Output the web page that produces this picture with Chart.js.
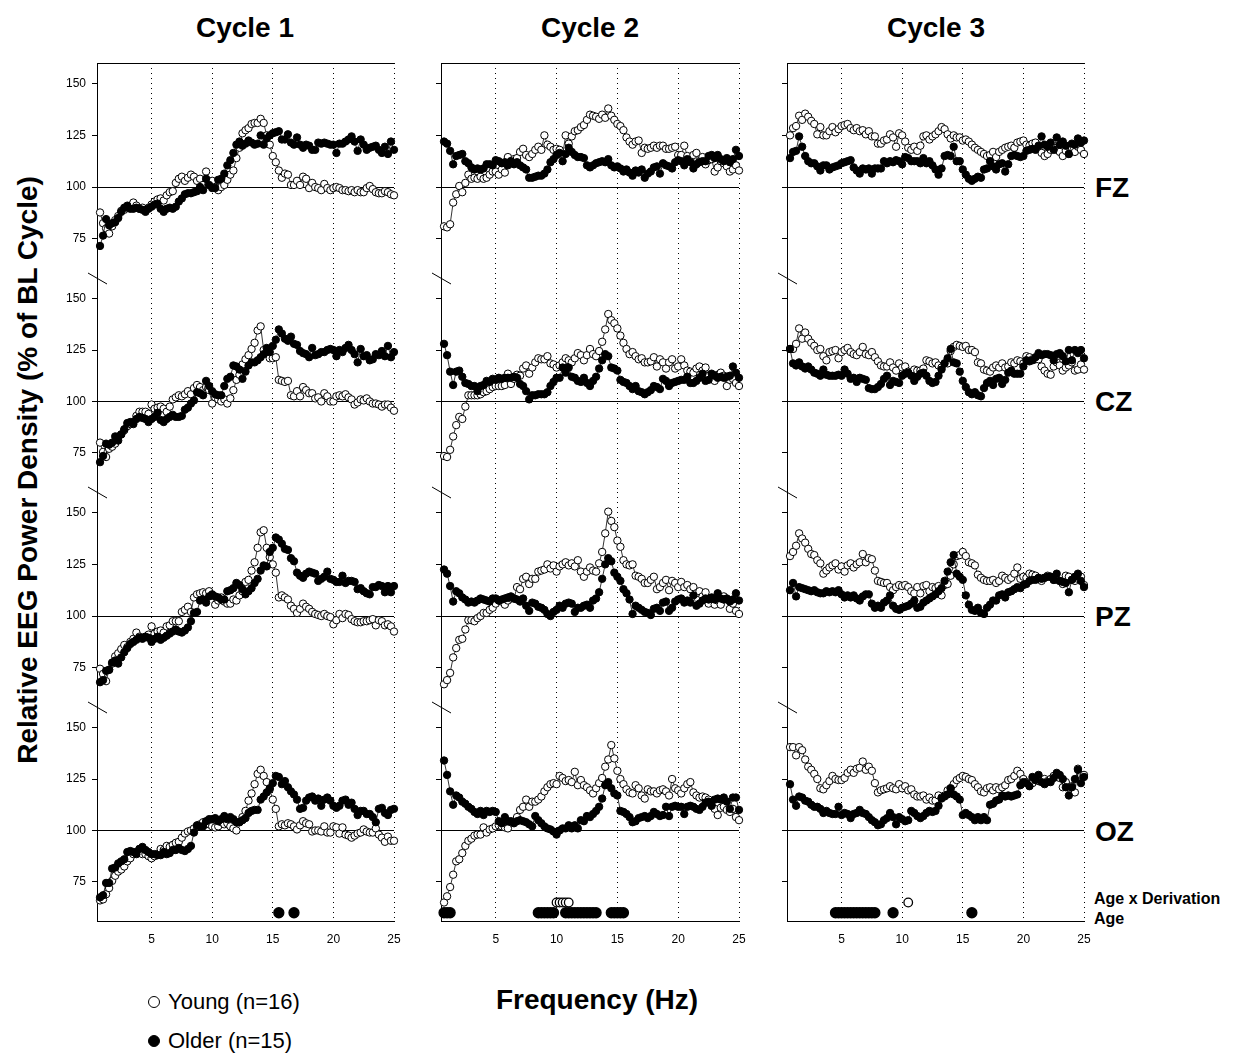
<!DOCTYPE html>
<html>
<head>
<meta charset="utf-8">
<script src="https://cdn.jsdelivr.net/npm/chart.js@4.4.1/dist/chart.umd.min.js"></script>
<style>
  body { margin: 0; background: #fff; width: 1236px; height: 1053px; position: relative; overflow: hidden;
         font-family: Arial, "Liberation Sans", sans-serif; color: #000; }
  canvas { position: absolute; }
  .t { position: absolute; font-weight: bold; white-space: nowrap; line-height: 1; }
  .c { transform: translate(-50%, -50%); }
  .m { transform: translateY(-50%); }
  .leg { position: absolute; font-size: 22px; white-space: nowrap; line-height: 1; transform: translateY(-50%); }
  .dot { position: absolute; width: 12px; height: 12px; border-radius: 50%; border: 1.5px solid #000; box-sizing: border-box; transform: translate(-50%, -50%); }
</style>
</head>
<body>

<div class="t c" style="left:245px;top:28px;font-size:28px">Cycle 1</div>
<div class="t c" style="left:590px;top:28px;font-size:28px">Cycle 2</div>
<div class="t c" style="left:936px;top:28px;font-size:28px">Cycle 3</div>

<div class="t" style="left:28px;top:470px;font-size:28px;transform:translate(-50%,-50%) rotate(-90deg)">Relative EEG Power Density (% of BL Cycle)</div>
<div class="t c" style="left:597px;top:1000px;font-size:28px">Frequency (Hz)</div>

<div class="t m" style="left:1095px;top:188px;font-size:28px">FZ</div>
<div class="t m" style="left:1095px;top:402px;font-size:28px">CZ</div>
<div class="t m" style="left:1095px;top:617px;font-size:28px">PZ</div>
<div class="t m" style="left:1095px;top:832px;font-size:28px">OZ</div>

<div class="t m" style="left:1094px;top:899px;font-size:16px">Age x Derivation</div>
<div class="t m" style="left:1094px;top:919px;font-size:16px">Age</div>

<div class="dot" style="left:154px;top:1002px;background:#fff"></div>
<div class="leg" style="left:168px;top:1002px">Young (n=16)</div>
<div class="dot" style="left:154px;top:1041px;background:#000"></div>
<div class="leg" style="left:168px;top:1041px">Older (n=15)</div>

<script>
// frequency bins (Hz), 0.25 Hz resolution
const freqs = Array.from({ length: 98 }, (_, i) => 0.75 + i * 0.25);
const xTicks = [5, 10, 15, 20, 25];
const yTicks = [75, 100, 125, 150];

// FZ
const youngFZ1 = [87.7, 82.5, 80, 77.5, 81, 84, 86, 88.5, 89, 90,
  91, 92.5, 91, 89.5, 90, 89, 90, 91.5, 93, 94,
  94.5, 93.5, 96, 97.5, 98, 102, 104, 105, 103, 104.5,
  106, 105, 103, 104, 101, 107.5, 101, 103, 100, 98.5,
  100, 101, 103.5, 106, 108, 114, 119, 126, 127.5, 128.5,
  130.5, 131, 131, 133, 131, 125, 120.5, 115, 112, 108,
  104.5, 106.5, 106, 101, 101, 103, 101, 105, 104, 99.5,
  102, 100, 99.5, 98.5, 101.5, 99.5, 98.5, 99.5, 100, 99.5,
  98.5, 98.5, 98, 98.5, 97.5, 98.5, 97.5, 97.5, 99.5, 100.5,
  99, 97.5, 97, 97, 98, 97.5, 96.5, 96];
const olderFZ1 = [71.5, 76.5, 84.5, 81.5, 82.5, 83, 85, 88, 90, 91,
  89.5, 89.5, 90, 89.5, 89, 88, 89.5, 90.5, 91.5, 92,
  89.5, 88, 89.5, 90, 89.5, 90.5, 93, 94.5, 96.5, 97,
  97, 97.5, 98, 100, 98.5, 104, 101, 99.5, 99.5, 103.5,
  104, 106.5, 110.5, 113, 116.5, 120.5, 122, 120, 121, 122.5,
  121.5, 120.5, 121, 125, 120.5, 123.5, 125, 126, 126.5, 127,
  123, 123, 125.5, 121.5, 120.5, 124, 120.5, 119, 120.5, 120,
  118, 118, 121.5, 121, 121.5, 121, 120.5, 120.5, 116.5, 121,
  121, 122, 123, 124.5, 122, 117.5, 123, 120.5, 118, 119,
  119.5, 120, 118, 116.5, 119.5, 116, 122, 118];
const youngFZ2 = [81, 80.5, 82, 92.5, 96.5, 100.5, 97.5, 102, 106, 104,
  104.5, 104, 105, 104, 104.5, 106, 107.5, 107.5, 106, 108.5,
  107, 114.5, 112.5, 113.5, 114, 117, 118.5, 115.5, 114.5, 116,
  118, 119.5, 118, 125, 120.5, 119.5, 118, 118.5, 118, 115.5,
  125, 121, 124.5, 127, 127.5, 129, 130, 132.5, 135, 134.5,
  134, 133, 135, 133.5, 138, 134.5, 132.5, 130.5, 129.5, 127.5,
  124, 122, 120.5, 122, 122.5, 116.5, 119, 118.5, 119, 120,
  119, 120, 120, 118.5, 118.5, 119, 119.5, 115.5, 115.5, 120,
  115, 113, 115.5, 116.5, 112.5, 114.5, 111, 113, 113.5, 107.5,
  109.5, 112.5, 111.5, 110, 107.5, 108.5, 110.5, 108];
const olderFZ2 = [122, 121, 117.5, 111, 115, 115.5, 116, 112.5, 111.5, 109.5,
  108.5, 109, 108.5, 109, 111, 111, 110.5, 113, 112.5, 111.5,
  112, 110.5, 112.5, 111, 112, 110.5, 109.5, 108.5, 104.5, 104.5,
  105, 105.5, 105.5, 106.5, 108.5, 112, 113.5, 115.5, 116.5, 112.5,
  116, 119, 117, 115.5, 114.5, 114.5, 114, 110.5, 109.5, 110.5,
  111.5, 112, 112.5, 112, 113.5, 110.5, 109.5, 110, 109, 107.5,
  108.5, 107, 105.5, 108, 107, 108.5, 104.5, 106.5, 107.5, 109.5,
  110, 106.5, 111.5, 110.5, 110, 109, 112, 113, 112.5, 110.5,
  113.5, 112, 109, 111, 112, 112.5, 112.5, 115, 115.5, 114,
  115.5, 113.5, 112.5, 114, 112, 113.5, 118, 115];
const youngFZ3 = [125, 128.5, 129.5, 134.5, 132.5, 135.5, 134, 132, 130.5, 125.5,
  129, 125, 125, 127, 129, 126.5, 128, 129.5, 130, 130.5,
  128.5, 127.5, 128.5, 127, 127.5, 125.5, 127, 124.5, 124.5, 121,
  121, 122.5, 123, 125.5, 124, 119.5, 126, 125, 122, 119,
  118, 119.5, 117.5, 120, 124.5, 125, 123, 124.5, 125.5, 127,
  129, 128, 125.5, 123.5, 125, 124, 124, 122.5, 123, 122,
  120.5, 119, 118, 117, 116, 115, 115.5, 117, 114.5, 117,
  118, 119, 119.5, 120, 119, 121.5, 122, 122.5, 120.5, 120,
  121, 121.5, 119, 116.5, 115, 116, 118, 119, 118, 117,
  115, 117.5, 116, 119, 117, 119.5, 118, 116];
const olderFZ3 = [114, 117, 117.5, 124.5, 119.5, 115, 112.5, 111.5, 111.5, 110,
  108, 110.5, 110.5, 108.5, 109.5, 110, 110.5, 111.5, 112, 112.5,
  113, 109.5, 108, 106.5, 109, 108.5, 109, 106.5, 109, 109,
  109, 112.5, 111.5, 112.5, 112, 113, 112.5, 111, 114.5, 114,
  112.5, 112.5, 112.5, 111.5, 114, 111.5, 112.5, 110.5, 108.5, 106,
  109, 115, 115.5, 115, 119.5, 112.5, 112.5, 108.5, 106, 104,
  103, 104, 105, 104.5, 108.5, 109, 112.5, 110, 108.5, 111,
  111.5, 107.5, 111, 115, 115.5, 115, 114.5, 115, 117.5, 118,
  118.5, 118, 120, 124.5, 120.5, 119.5, 121.5, 118, 124, 120.5,
  122, 120, 116, 121, 120.5, 123.5, 121.5, 122.5];

// CZ
const youngCZ1 = [80, 75.5, 73, 77, 78, 79.5, 83, 84, 86, 88,
  89, 90, 93, 95, 95, 95, 94, 98.5, 96.5, 97,
  97.5, 96.5, 95, 97.5, 101, 102, 103, 102.5, 103.5, 105,
  103.5, 106.5, 108, 107, 105.5, 107, 105.5, 99, 102, 101,
  100, 101, 99, 101.5, 105.5, 110.5, 113, 118, 120.5, 122.5,
  125.5, 128.5, 134.5, 136.5, 125, 123.5, 121, 121, 121.5, 110.5,
  110, 109.5, 110, 103, 102.5, 105, 102.5, 107, 105.5, 104,
  104, 101.5, 102, 100, 104, 102.5, 100, 100, 102.5, 103,
  102.5, 103.5, 102, 101, 98.5, 99.5, 101, 100.5, 101.5, 100,
  99, 99, 98.5, 97.5, 98.5, 98.5, 97, 95.5];
const olderCZ1 = [70.5, 73.5, 79.5, 79, 80, 83, 81, 84, 86.5, 89.5,
  90, 89, 91.5, 92.5, 92, 91.5, 90, 91.5, 92.5, 94.5,
  91, 90, 91.5, 92.5, 93.5, 92.5, 92.5, 93, 96, 97,
  99, 100.5, 104.5, 104, 103, 110, 107.5, 105, 103.5, 103,
  103, 107.5, 111, 112, 117.5, 117, 115.5, 111, 114.5, 117.5,
  119, 119, 120, 121.5, 123, 126, 124, 127, 130, 135,
  133, 130.5, 129.5, 131.5, 128, 127.5, 124.5, 123.5, 123, 121.5,
  126, 122.5, 123, 124, 124, 125, 125.5, 125, 122, 125,
  124, 126, 127.5, 125, 123, 119, 125.5, 122, 122.5, 120,
  120.5, 123, 122.5, 124.5, 122, 127, 121.5, 124];
const youngCZ2 = [73.5, 73, 76.5, 83, 88.5, 92.5, 91.5, 97.5, 103, 103,
  103, 103, 103.5, 104.5, 105, 106, 107, 107.5, 107.5, 107.5,
  108, 113.5, 108.5, 111, 113, 112.5, 116, 117.5, 113.5, 116.5,
  119, 121, 120.5, 120.5, 122, 118.5, 118, 116.5, 117.5, 119,
  121, 120, 119, 121, 123.5, 122.5, 120, 122.5, 125.5, 123,
  122, 124.5, 129, 135, 142.5, 139.5, 138, 135.5, 132, 128.5,
  125.5, 123, 124, 122, 120.5, 121, 119, 119, 119.5, 121.5,
  117, 120.5, 119, 116, 119, 120.5, 116, 117, 120.5, 117.5,
  115, 114.5, 114, 116, 117, 115, 116.5, 112.5, 111.5, 110,
  113, 114, 112.5, 107.5, 110.5, 111, 109, 107.5];
const olderCZ2 = [128, 122.5, 114.5, 108, 114.5, 115, 112, 109, 108.5, 107.5,
  107.5, 105, 107.5, 108, 110, 109.5, 111, 110.5, 111.5, 111,
  111.5, 111.5, 111.5, 112, 111.5, 108.5, 107.5, 105, 101, 103,
  103, 103.5, 103.5, 103.5, 104.5, 107.5, 109.5, 111.5, 111.5, 116.5,
  114, 116.5, 112, 111.5, 110, 109.5, 111.5, 109, 107.5, 110,
  112, 116, 120, 123, 122, 116.5, 116, 115, 110.5, 109.5,
  109, 107.5, 106, 107.5, 105, 104.5, 103.5, 104.5, 105.5, 107.5,
  107, 106, 111, 110, 107.5, 109, 109.5, 110, 110.5, 110.5,
  112, 109, 109, 110, 111.5, 113.5, 110, 110.5, 113.5, 112.5,
  111.5, 112, 111.5, 112, 112.5, 117, 114, 111.5];
const youngCZ3 = [125.5, 125.5, 128, 135.5, 130.5, 133.5, 130.5, 128.5, 127, 125,
  125.5, 122, 120, 124, 124.5, 125, 121, 124, 125, 126,
  124, 123, 122.5, 124, 126.5, 123, 122.5, 124, 121.5, 119.5,
  117.5, 117, 117, 119, 116.5, 115, 118.5, 116.5, 117, 114.5,
  114, 115.5, 115, 115, 116, 120, 119.5, 118.5, 119, 117.5,
  116.5, 118.5, 118.5, 124.5, 126.5, 127.5, 127, 126.5, 127, 125,
  125, 124, 119, 118.5, 115.5, 115, 114.5, 116.5, 117.5, 116.5,
  118.5, 116.5, 117, 119, 118.5, 120, 119.5, 118.5, 122, 121.5,
  120.5, 120.5, 120.5, 117, 115, 113.5, 113, 117, 119, 117.5,
  115, 116.5, 117.5, 119, 115, 115.5, 118, 115.5];
const olderCZ3 = [125.5, 118.5, 117.5, 119, 117, 116, 117, 115.5, 114, 113.5,
  112.5, 115.5, 113, 112.5, 112.5, 112.5, 113, 112.5, 115.5, 113.5,
  111, 111.5, 109.5, 111.5, 111, 110.5, 106.5, 106, 106, 107,
  108.5, 111, 112.5, 108, 110, 109.5, 109, 112.5, 113.5, 114,
  112.5, 110, 112, 113.5, 114, 112.5, 110, 109, 109.5, 112.5,
  115.5, 118.5, 121, 125.5, 119, 118.5, 114.5, 110, 107, 104.5,
  103.5, 104.5, 103, 102.5, 106.5, 109, 110, 108, 111, 111.5,
  108.5, 110.5, 114, 115, 113.5, 113.5, 113.5, 117, 120, 119.5,
  120, 121.5, 123.5, 122.5, 123, 123, 122.5, 120, 123, 123.5,
  122, 119.5, 125, 120, 125, 123.5, 125, 121];

// PZ
const youngPZ1 = [74.5, 72, 68.5, 74, 77, 80.5, 82, 84, 86, 85,
  87.5, 89, 92, 90, 89.5, 90, 91, 95, 91.5, 92.5,
  93, 92, 95, 95.5, 97.5, 97.5, 97.5, 102, 103, 104.5,
  102, 109, 110.5, 111, 111.5, 111, 112, 110, 105.5, 107.5,
  109, 107, 106, 106, 108, 107.5, 110, 112, 116.5, 117.5,
  122, 126, 133, 140.5, 141.5, 133, 128.5, 125, 121, 109,
  110, 109, 108, 105, 103.5, 101.5, 103.5, 106, 104.5, 103.5,
  102, 101, 100.5, 100, 101, 100, 99.5, 96, 98, 101,
  99, 101, 100.5, 98.5, 97.5, 97, 97, 97.5, 97.5, 98,
  98.5, 95.5, 98, 97.5, 95.5, 96, 95, 92.5];
const olderPZ1 = [68, 69, 73.5, 74, 77.5, 78.5, 77, 80, 82.5, 84.5,
  86.5, 87.5, 88.5, 89.5, 89, 90, 89.5, 87.5, 89, 90,
  88.5, 89.5, 90.5, 91.5, 92.5, 93.5, 92.5, 92, 93, 94.5,
  97.5, 101.5, 102, 107.5, 108, 106.5, 109.5, 110.5, 109.5, 109,
  108, 108, 112, 112.5, 113.5, 116, 115, 113, 110.5, 112,
  113.5, 116, 118, 122, 124.5, 124, 131, 133, 138, 137,
  135, 132.5, 132, 128, 126.5, 121, 119.5, 118.5, 120.5, 121.5,
  121, 120.5, 117, 118, 119, 121.5, 118, 117.5, 116.5, 116.5,
  119.5, 116, 117, 117, 116.5, 113, 113.5, 112, 111, 110.5,
  114, 114, 115, 114.5, 111.5, 114.5, 111.5, 114.5];
const youngPZ2 = [67, 69, 72.5, 80, 84.5, 88.5, 89, 93.5, 98, 98,
  97.5, 99, 100, 101.5, 101.5, 103, 104, 106, 107.5, 107,
  105.5, 107.5, 108.5, 108.5, 114, 113, 118, 119, 115.5, 118,
  118, 121.5, 122, 122.5, 125, 123, 124.5, 121.5, 124, 125,
  126, 124.5, 125.5, 124, 127, 121.5, 119, 121.5, 123.5, 122,
  121.5, 125.5, 131, 140, 150.5, 146, 143, 136.5, 133.5, 127,
  125, 124.5, 125, 119.5, 119, 118, 116, 116, 117.5, 119,
  113, 114, 116, 117.5, 112.5, 117, 116, 114, 116.5, 114,
  115, 113, 114, 111, 112, 109.5, 111.5, 106, 108.5, 105.5,
  107.5, 105.5, 109.5, 108, 103.5, 106, 102.5, 101];
const olderPZ2 = [122.5, 120.5, 114.5, 107, 112, 111, 109, 108, 106.5, 107,
  106.5, 107.5, 108.5, 108, 107.5, 107, 108.5, 108.5, 107.5, 108,
  108.5, 109, 109.5, 108.5, 108, 107, 108.5, 105, 102.5, 106.5,
  106, 104.5, 104, 103, 101, 100, 102, 103, 105, 104,
  106, 106.5, 106, 102, 104, 104, 105, 105.5, 104, 107.5,
  108.5, 111.5, 118, 125, 128, 126.5, 121, 119, 117, 113,
  111, 108, 101, 105, 104, 103, 102, 101.5, 100.5, 103.5,
  104, 102.5, 106.5, 107, 102.5, 104, 107, 108, 108.5, 106.5,
  107.5, 106.5, 110, 105, 106, 107.5, 108.5, 108, 109, 108,
  111, 108.5, 108, 108.5, 107, 108, 111, 107.5];
const youngPZ3 = [129, 131, 134, 140, 137.5, 135.5, 132.5, 130, 129.5, 127,
  125.5, 120.5, 122, 123.5, 124.5, 125.5, 122.5, 124, 121.5, 124.5,
  125.5, 123.5, 125, 126, 130, 126, 128, 127.5, 122, 117,
  116.5, 116, 116, 114, 112.5, 114, 115, 114.5, 115, 114,
  112, 111, 114, 111, 114.5, 115, 112, 114, 113.5, 114.5,
  110, 115, 115.5, 119.5, 125, 129, 129.5, 131, 129, 126,
  125.5, 124.5, 120, 118.5, 117.5, 117, 117, 117.5, 116, 117,
  119.5, 118.5, 117.5, 118.5, 120.5, 123.5, 118, 119, 118.5, 120.5,
  120, 119.5, 118, 117, 118.5, 119.5, 119, 117.5, 117.5, 117,
  115.5, 119.5, 119, 117.5, 117, 118, 119, 115];
const olderPZ3 = [112.5, 116, 109.5, 114, 113.5, 113, 112.5, 112, 112.5, 111.5,
  111, 111, 112, 111.5, 112, 111.5, 112.5, 110.5, 109, 110,
  109, 110, 108.5, 107.5, 109.5, 110.5, 110.5, 106, 104, 105,
  104, 106.5, 107.5, 110, 105, 103.5, 103, 104, 104.5, 105,
  106, 107.5, 104, 104.5, 106.5, 107.5, 108.5, 109.5, 110.5, 112,
  113.5, 117, 121.5, 126, 129.5, 120.5, 119, 117.5, 110, 105.5,
  103, 102.5, 104, 101.5, 101, 104, 105.5, 107.5, 107.5, 110,
  110.5, 109, 111.5, 112, 113, 114, 113.5, 115, 115.5, 117,
  117.5, 117.5, 118.5, 118, 118.5, 119, 119, 117.5, 120.5, 117,
  116.5, 116, 111.5, 117.5, 119, 120.5, 117, 114];

// OZ
const youngOZ1 = [66, 66.5, 69, 72, 75.5, 78, 80, 81, 82.5, 85,
  86.5, 88.5, 89.5, 91, 88.5, 88.5, 87.5, 86.5, 87.5, 88.5,
  91, 90.5, 92.5, 92, 93, 94, 94.5, 96.5, 98.5, 99.5,
  100, 101, 102, 103, 104, 104, 103, 102, 101.5, 102,
  104, 103, 103.5, 102, 101, 100, 104, 106.5, 109.5, 114.5,
  118, 122.5, 127.5, 129.5, 126.5, 123.5, 120, 115, 110.5, 102,
  103, 102.5, 103.5, 103, 102, 100.5, 102.5, 104.5, 103.5, 103,
  99.5, 100, 100, 99.5, 102, 99, 99, 102, 101.5, 98.5,
  101.5, 98, 97.5, 96.5, 97.5, 98.5, 99, 100.5, 99.5, 99,
  99, 101, 98, 96.5, 94.5, 97, 95, 95];
const olderOZ1 = [67.5, 68.5, 74.5, 74.5, 81.5, 82, 84, 85, 86, 89.5,
  90, 89.5, 88.5, 91, 92, 90.5, 89.5, 88.5, 88.5, 88,
  88, 89.5, 88.5, 89, 90.5, 90.5, 91.5, 90.5, 90, 91,
  92.5, 99, 102.5, 102, 102, 104.5, 105.5, 105.5, 106, 104.5,
  105.5, 107, 105.5, 106.5, 105.5, 104, 104, 105, 106, 108.5,
  109.5, 110, 110, 115, 116.5, 118.5, 120.5, 123, 126.5, 126,
  122.5, 124, 121, 119, 117.5, 115, 110.5, 111, 114.5, 116,
  116.5, 114.5, 115.5, 112, 115, 116, 114.5, 112, 111, 112,
  114.5, 115, 112.5, 113.5, 110.5, 107.5, 109.5, 109.5, 108, 108,
  106.5, 104, 110.5, 111, 108.5, 107.5, 110, 110.5];
const youngOZ2 = [65, 68, 72.5, 78.5, 85, 86, 89, 92.5, 95, 96,
  97.5, 98, 98, 101.5, 99, 100.5, 101, 102, 102.5, 102,
  101.5, 101, 104, 104, 106.5, 110, 111.5, 115, 111.5, 114,
  114, 115, 116.5, 119, 121, 122.5, 123, 122.5, 126.5, 125.5,
  124, 124.5, 123.5, 128.5, 122, 124.5, 122, 121, 119.5, 118,
  120.5, 123, 125.5, 131, 134.5, 141.5, 135, 129, 125, 122.5,
  120, 118.5, 118, 122, 120.5, 117, 115.5, 120, 119, 119,
  118, 119.5, 120, 119, 117, 125, 120.5, 119.5, 118, 120.5,
  122.5, 123.5, 118.5, 117, 116, 116.5, 116, 115, 112, 110.5,
  107.5, 111, 111.5, 110, 109, 110.5, 106.5, 105];
const olderOZ2 = [134, 127, 119, 112.5, 117, 116, 114, 113, 111.5, 110.5,
  109, 108, 109.5, 107.5, 109.5, 109, 109.5, 109, 104.5, 103.5,
  106.5, 104.5, 104.5, 103.5, 104.5, 105, 104.5, 104, 103, 102,
  107, 105, 103.5, 102, 101, 100.5, 99.5, 98, 100, 101,
  101, 102.5, 101, 102.5, 101, 105, 104.5, 107, 106.5, 108,
  109.5, 111.5, 115.5, 122, 123.5, 120.5, 118, 117, 109.5, 109,
  108, 106.5, 104, 104.5, 106, 106.5, 107, 106, 107, 109,
  108, 107, 107.5, 111.5, 107, 111.5, 112, 111.5, 111.5, 108,
  111.5, 112, 111.5, 110.5, 110, 111.5, 113.5, 114, 112, 115,
  115.5, 115, 116, 114, 110.5, 116, 116, 110];
const youngOZ3 = [140.5, 140.5, 136.5, 140.5, 139, 134.5, 131, 129.5, 127.5, 125,
  120.5, 120, 122, 124, 126.5, 125, 124.5, 124.5, 125.5, 128,
  129.5, 128, 130, 130.5, 133.5, 129.5, 131, 129, 123, 118.5,
  119.5, 120, 120.5, 121.5, 120.5, 120, 122.5, 120.5, 121.5, 119.5,
  120, 117.5, 116.5, 116.5, 117, 115, 116, 114.5, 114.5, 117,
  116, 117, 119.5, 120.5, 122.5, 124.5, 125.5, 126.5, 126, 125,
  124.5, 122.5, 121, 119, 118.5, 120.5, 121, 119.5, 121, 120,
  121, 122, 124.5, 125, 126.5, 129, 127.5, 125, 123.5, 122,
  123, 124.5, 124, 124.5, 125, 124, 125, 126.5, 127, 125.5,
  121, 123.5, 121, 121.5, 118.5, 130, 127, 127];
const olderOZ3 = [122.5, 115, 112, 116.5, 116, 114.5, 114, 112.5, 111.5, 111.5,
  110.5, 108.5, 109.5, 108.5, 108, 108, 111.5, 107.5, 108.5, 108,
  106, 108, 108.5, 110, 108.5, 108, 106.5, 105, 104, 102.5,
  103, 105, 106, 108.5, 106.5, 103, 106.5, 105.5, 104.5, 105,
  109.5, 108.5, 107, 106, 107, 108.5, 109.5, 109, 109.5, 112,
  115.5, 116.5, 117.5, 120.5, 117.5, 116.5, 115, 107.5, 108.5, 107.5,
  106.5, 105, 106.5, 105, 106.5, 105, 112.5, 113, 114.5, 115,
  117, 116.5, 117, 116.5, 117, 117.5, 122, 123.5, 123, 121.5,
  126, 124.5, 127, 123.5, 122.5, 123.5, 123.5, 125.5, 128, 127,
  125, 121, 117, 121, 125, 129.5, 123, 126];

// significant frequency bins (Hz)
const sigAge1 = [15.5, 16.75];
const sigInter1 = [];
const sigAge2 = [0.75, 1, 1.25, 8.5, 8.75, 9, 9.25, 9.5, 9.75,
  10.75, 11, 11.25, 11.5, 11.75, 12, 12.25, 12.5, 12.75, 13, 13.25,
  14.5, 14.75, 15, 15.25, 15.5];
const sigInter2 = [10, 10.25, 10.5, 10.75, 11];
const sigAge3 = [4.5, 4.75, 5, 5.25, 5.5, 5.75, 6, 6.25, 6.5, 6.75, 7, 7.25, 7.5, 7.75, 9.25, 15.75];
const sigInter3 = [10.5];
const SIG_AGE_Y = 60;
const SIG_INTER_Y = 65;

// page geometry of the plot areas
const colLeft = [97, 441, 787];
const colRight = [394, 739, 1084];
const rowTop = [63, 278, 492, 707];
const rowBottom = [278, 492, 707, 921];
const YW = 45, PADT = 12, PADB = 12, PADR = 12, XH = 36;
const FONT = 'Arial, "Liberation Sans", sans-serif';

const frame = {
  id: 'frame',
  afterDraw(chart, args, opts) {
    const { ctx, chartArea: a } = chart;
    ctx.save();
    ctx.strokeStyle = '#000';
    ctx.lineWidth = 1;
    if (opts.topLine) {
      ctx.beginPath();
      ctx.moveTo(a.left, a.top + 0.5);
      ctx.lineTo(a.right, a.top + 0.5);
      ctx.stroke();
    }
    if (opts.breakMark) {
      ctx.beginPath();
      ctx.moveTo(a.left - 9, a.top - 5);
      ctx.lineTo(a.left + 10, a.top + 6);
      ctx.stroke();
    }
    ctx.restore();
  }
};

function series(values, fill) {
  return {
    data: values.map((v, i) => ({ x: freqs[i], y: v })),
    borderColor: '#000',
    borderWidth: 0.8,
    pointRadius: 3.7,
    pointBorderWidth: 1,
    pointBorderColor: '#000',
    pointBackgroundColor: fill,
    tension: 0,
    clip: false
  };
}

function sigSet(list, y, fill, r) {
  return {
    data: list.map(f => ({ x: f, y: y })),
    showLine: false,
    pointRadius: r,
    pointBorderWidth: 1.3,
    pointBorderColor: '#000',
    pointBackgroundColor: fill,
    clip: false
  };
}

function makePanel(col, row, young, older, sigAge, sigInter) {
  const bottomRow = row === 3;
  const plotW = colRight[col] - colLeft[col];
  const plotH = rowBottom[row] - rowTop[row];
  const canvas = document.createElement('canvas');
  canvas.width = YW + plotW + PADR;
  canvas.height = PADT + plotH + (bottomRow ? XH : PADB);
  canvas.style.left = (colLeft[col] - YW) + 'px';
  canvas.style.top = (rowTop[row] - PADT) + 'px';
  document.body.appendChild(canvas);

  const datasets = [];
  if (bottomRow) {
    datasets.push(sigSet(sigInter, SIG_INTER_Y, '#fff', 4.3));
    datasets.push(sigSet(sigAge, SIG_AGE_Y, '#000', 5));
  }
  datasets.push(series(older, '#000'));
  datasets.push(series(young, '#fff'));

  new Chart(canvas, {
    type: 'line',
    data: { datasets },
    plugins: [frame],
    options: {
      responsive: false,
      animation: false,
      events: [],
      layout: { padding: { top: PADT, right: PADR, bottom: bottomRow ? 0 : PADB, left: 0 } },
      plugins: {
        legend: { display: false },
        tooltip: { enabled: false },
        frame: { topLine: row === 0, breakMark: row > 0 }
      },
      scales: {
        x: {
          type: 'linear',
          min: 0.5,
          max: 25,
          afterBuildTicks: s => { s.ticks = xTicks.map(v => ({ value: v })); },
          afterFit: s => {
            s.height = bottomRow ? XH : 0;
            s.paddingLeft = 0;
            s.paddingRight = 0;
          },
          grid: { color: '#000', lineWidth: 1, drawTicks: false },
          border: { display: bottomRow, color: '#000', width: 1, dash: [1, 4] },
          ticks: { display: bottomRow, color: '#000', padding: 11, maxRotation: 0, autoSkip: false,
                   font: { size: 12, family: FONT } }
        },
        y: {
          type: 'linear',
          min: 56,
          max: 160,
          afterBuildTicks: s => { s.ticks = yTicks.map(v => ({ value: v })); },
          afterFit: s => {
            s.width = YW;
            s.paddingTop = 0;
            s.paddingBottom = 0;
          },
          grid: {
            color: c => (c.tick && c.tick.value === 100 ? '#000' : 'rgba(0,0,0,0)'),
            tickColor: '#000',
            tickLength: 5,
            lineWidth: 1
          },
          border: { display: true, color: '#000', width: 1 },
          ticks: { display: col === 0, color: '#000', padding: 6, font: { size: 12, family: FONT } }
        }
      }
    }
  });
}

const panels = [
  [0, 0, youngFZ1, olderFZ1], [1, 0, youngFZ2, olderFZ2], [2, 0, youngFZ3, olderFZ3],
  [0, 1, youngCZ1, olderCZ1], [1, 1, youngCZ2, olderCZ2], [2, 1, youngCZ3, olderCZ3],
  [0, 2, youngPZ1, olderPZ1], [1, 2, youngPZ2, olderPZ2], [2, 2, youngPZ3, olderPZ3],
  [0, 3, youngOZ1, olderOZ1], [1, 3, youngOZ2, olderOZ2], [2, 3, youngOZ3, olderOZ3]
];
const sigAge = [sigAge1, sigAge2, sigAge3];
const sigInter = [sigInter1, sigInter2, sigInter3];

panels.forEach(([c, r, y, o]) => makePanel(c, r, y, o, sigAge[c], sigInter[c]));
</script>
</body>
</html>
